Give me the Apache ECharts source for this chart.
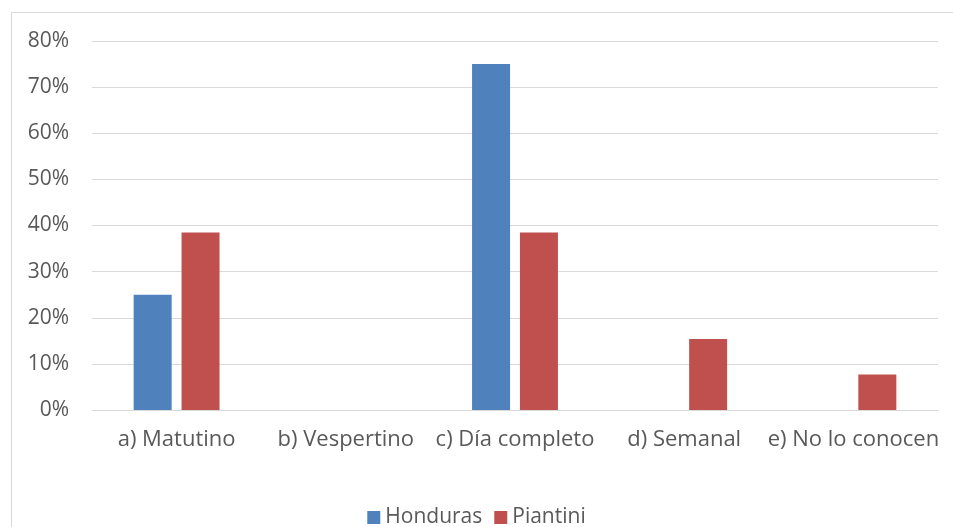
<!DOCTYPE html>
<html><head><meta charset="utf-8">
<script src="https://cdn.jsdelivr.net/npm/echarts@6/dist/echarts.min.js"></script>
<style>html,body{margin:0;padding:0;background:#fff;overflow:hidden}#c{width:953px;height:527px}
#frame{position:absolute;left:11px;top:12px;width:960px;height:540px;border:1px solid #d9d9d9;pointer-events:none}</style>
</head><body><div id="c"></div><div id="frame"></div>
<script>
const categories = ['a) Matutino','b) Vespertino','c) Día completo','d) Semanal','e) No lo conocen'];
const honduras = [0.25, 0, 0.75, 0, 0];
const piantini = [0.3846, 0, 0.3846, 0.1538, 0.0769];
const yTicks = {min:0, max:0.8, interval:0.1};
const font = '"Open Sans", sans-serif';
const chart = echarts.init(document.getElementById('c'));
chart.setOption({
  animation:false,
  grid:{left:92, right:15, top:41, bottom:117},
  legend:{bottom:-6, left:'center', itemWidth:13, itemHeight:13, itemGap:12,
    icon:'rect', textStyle:{color:'#595959', fontSize:21, fontFamily:font},
    data:['Honduras','Piantini']},
  xAxis:{type:'category', data:categories,
    axisLine:{lineStyle:{color:'#d9d9d9', width:1}}, axisTick:{show:false},
    axisLabel:{color:'#595959', fontSize:22, fontFamily:font, margin:19, interval:0}},
  yAxis:{type:'value', min:yTicks.min, max:yTicks.max, interval:yTicks.interval,
    axisLine:{show:false}, axisTick:{show:false},
    splitLine:{lineStyle:{color:'#d9d9d9', width:1}},
    axisLabel:{color:'#595959', fontSize:21, fontFamily:font, margin:23,
      formatter:v=>Math.round(v*100)+'%'}},
  series:[
    {name:'Honduras', type:'bar', data:honduras, barWidth:38, barGap:'26%', itemStyle:{color:'#4F81BD'}},
    {name:'Piantini', type:'bar', data:piantini, barWidth:38, itemStyle:{color:'#C0504D'}}
  ]
});
</script></body></html>
